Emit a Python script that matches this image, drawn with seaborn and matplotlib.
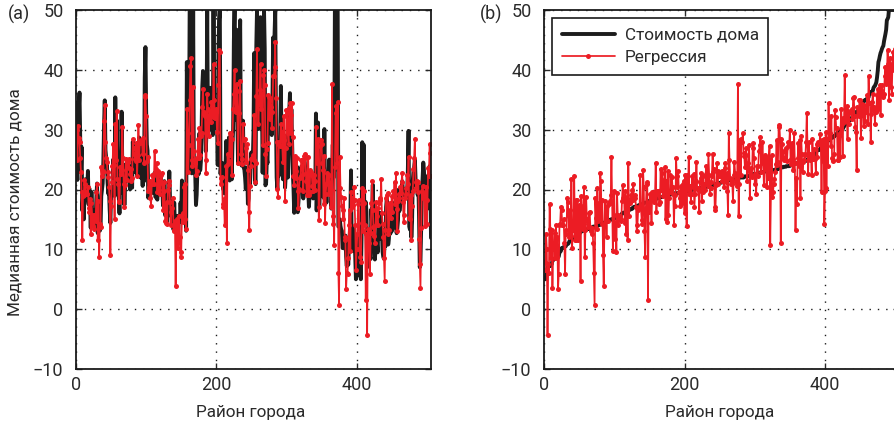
import numpy as np
import pandas as pd
import matplotlib
matplotlib.use('Agg')
import matplotlib.pyplot as plt
import seaborn as sns

# Median house value (Boston housing), per district, in original order
medv = [
    24.0, 21.6, 34.7, 33.4, 36.2, 28.7, 22.9, 27.1, 16.5, 18.9,
    15.0, 18.9, 21.7, 20.4, 18.2, 19.9, 23.1, 17.5, 20.2, 18.2,
    13.6, 19.6, 15.2, 14.5, 15.6, 13.9, 16.6, 14.8, 18.4, 21.0,
    12.7, 14.5, 13.2, 13.1, 13.5, 18.9, 20.0, 21.0, 24.7, 30.8,
    34.9, 26.6, 25.3, 24.7, 21.2, 19.3, 20.0, 16.6, 14.4, 19.4,
    19.7, 20.5, 25.0, 23.4, 18.9, 35.4, 24.7, 31.6, 23.3, 19.6,
    18.7, 16.0, 22.2, 25.0, 33.0, 23.5, 19.4, 22.0, 17.4, 20.9,
    24.2, 21.7, 22.8, 23.4, 24.1, 21.4, 20.0, 20.8, 21.2, 20.3,
    28.0, 23.9, 24.8, 22.9, 23.9, 26.6, 22.5, 22.2, 23.6, 28.7,
    22.6, 22.0, 22.9, 25.0, 20.6, 28.4, 21.4, 38.7, 43.8, 33.2,
    27.5, 26.5, 18.6, 19.3, 20.1, 19.5, 19.5, 20.4, 19.8, 19.4,
    21.7, 22.8, 18.8, 18.7, 18.5, 18.3, 21.2, 19.2, 20.4, 19.3,
    22.0, 20.3, 20.5, 17.3, 18.8, 21.4, 15.7, 16.2, 18.0, 14.3,
    19.2, 19.6, 23.0, 18.4, 15.6, 18.1, 17.4, 17.1, 13.3, 17.8,
    14.0, 14.4, 13.4, 15.6, 11.8, 13.8, 15.6, 14.6, 17.8, 15.4,
    21.5, 19.6, 15.3, 19.4, 17.0, 15.6, 13.1, 41.3, 24.3, 23.3,
    27.0, 50.0, 50.0, 50.0, 22.7, 25.0, 50.0, 23.8, 23.8, 22.3,
    17.4, 19.1, 23.1, 23.6, 22.6, 29.4, 23.2, 24.6, 29.9, 37.2,
    39.8, 36.2, 37.9, 32.5, 26.4, 29.6, 50.0, 32.0, 29.8, 34.9,
    37.0, 30.5, 36.4, 31.1, 29.1, 50.0, 33.3, 30.3, 34.6, 34.9,
    32.9, 24.1, 42.3, 48.5, 50.0, 22.6, 24.4, 22.5, 24.4, 20.0,
    21.7, 19.3, 22.4, 28.1, 23.7, 25.0, 23.3, 28.7, 21.5, 23.0,
    26.7, 21.7, 27.5, 30.1, 44.8, 50.0, 37.6, 31.6, 46.7, 31.5,
    24.3, 31.7, 41.7, 48.3, 29.0, 24.0, 25.1, 31.5, 23.7, 23.3,
    22.0, 20.1, 22.2, 23.7, 17.6, 18.5, 24.3, 20.5, 24.5, 26.2,
    24.4, 24.8, 29.6, 42.8, 21.9, 20.9, 44.0, 50.0, 36.0, 30.1,
    33.8, 43.1, 48.8, 31.0, 36.5, 22.8, 30.7, 50.0, 43.5, 20.7,
    21.1, 25.2, 24.4, 35.2, 32.4, 32.0, 33.2, 33.1, 29.1, 35.1,
    45.4, 35.4, 46.0, 50.0, 32.2, 22.0, 20.1, 23.2, 22.3, 24.8,
    28.5, 37.3, 27.9, 23.9, 21.7, 28.6, 27.1, 20.3, 22.5, 29.0,
    24.8, 22.0, 26.4, 33.1, 36.1, 28.4, 33.4, 28.2, 22.8, 20.3,
    16.1, 22.1, 19.4, 21.6, 23.8, 16.2, 17.8, 19.8, 23.1, 21.0,
    23.8, 23.1, 20.4, 18.5, 25.0, 24.6, 23.0, 22.2, 19.3, 22.6,
    19.8, 17.1, 19.4, 22.2, 20.7, 21.1, 19.5, 18.5, 20.6, 19.0,
    18.7, 32.7, 16.5, 23.9, 31.2, 17.5, 17.2, 23.1, 24.5, 26.6,
    22.9, 24.1, 18.6, 30.1, 18.2, 20.6, 17.8, 21.7, 22.7, 22.6,
    25.0, 19.9, 20.8, 16.8, 21.9, 27.5, 21.9, 23.1, 50.0, 50.0,
    50.0, 50.0, 50.0, 13.8, 13.8, 15.0, 13.9, 13.3, 13.1, 10.2,
    10.4, 10.9, 11.3, 12.3, 8.8, 7.2, 10.5, 7.4, 10.2, 11.5,
    15.1, 23.2, 9.7, 13.8, 12.7, 13.1, 12.5, 8.5, 5.0, 6.3,
    5.6, 7.2, 12.1, 8.3, 8.5, 5.0, 11.9, 27.9, 17.2, 27.5,
    15.0, 17.2, 17.9, 16.3, 7.0, 7.2, 7.5, 10.4, 8.8, 8.4,
    16.7, 14.2, 20.8, 13.4, 11.7, 8.3, 10.2, 10.9, 11.0, 9.5,
    14.5, 14.1, 16.1, 14.3, 11.7, 13.4, 9.6, 8.7, 8.4, 12.8,
    10.5, 17.1, 18.4, 15.4, 10.8, 11.8, 14.9, 12.6, 14.1, 13.0,
    13.4, 15.2, 16.1, 17.8, 14.9, 14.1, 12.7, 13.5, 14.9, 20.0,
    16.4, 17.7, 19.5, 20.2, 21.4, 19.9, 19.0, 19.1, 19.1, 20.1,
    19.9, 19.6, 23.2, 29.8, 13.8, 13.3, 16.7, 12.0, 14.6, 21.4,
    23.0, 23.7, 25.0, 21.8, 20.6, 21.2, 19.1, 20.6, 15.2, 7.0,
    8.1, 13.6, 20.1, 21.8, 24.5, 23.1, 19.7, 18.3, 21.2, 17.5,
    16.8, 22.4, 20.6, 23.9, 22.0, 11.9,
]

# Regression prediction per district
pred = [
    30.0, 25.0, 30.6, 28.6, 27.9, 25.3, 23.0, 19.5, 11.5, 18.9,
    19.0, 21.6, 20.9, 19.6, 19.3, 19.3, 20.5, 16.9, 16.2, 18.4,
    12.5, 17.7, 15.8, 13.9, 15.7, 13.4, 15.5, 14.7, 19.5, 20.9,
    11.5, 18.1, 8.8, 14.3, 13.7, 23.8, 22.3, 23.1, 22.9, 31.4,
    34.2, 28.0, 25.2, 24.6, 22.9, 22.1, 20.4, 18.0, 9.1, 17.2,
    21.3, 23.9, 27.6, 24.1, 15.1, 31.0, 24.9, 33.1, 21.8, 21.0,
    17.9, 18.1, 23.7, 22.6, 23.3, 30.4, 25.2, 20.9, 17.1, 20.8,
    25.1, 21.6, 24.0, 24.6, 25.1, 23.6, 22.6, 23.4, 21.4, 21.9,
    28.4, 27.0, 26.0, 25.1, 24.8, 27.8, 22.2, 25.7, 30.8, 25.0,
    27.8, 28.2, 28.0, 27.9, 26.0, 28.6, 24.5, 35.8, 35.5, 32.3,
    24.8, 25.4, 19.8, 20.4, 21.5, 18.6, 17.3, 20.9, 22.4, 22.2,
    21.0, 26.5, 22.7, 23.5, 24.5, 19.6, 23.1, 22.4, 20.0, 19.3,
    22.4, 22.8, 21.1, 16.5, 19.8, 21.2, 14.8, 14.4, 17.9, 14.2,
    20.0, 21.5, 20.8, 17.9, 14.1, 16.2, 16.9, 18.5, 13.2, 13.1,
    14.8, 3.9, 14.2, 15.0, 10.3, 11.0, 15.6, 12.0, 8.7, 9.5,
    15.8, 16.0, 14.5, 20.5, 21.0, 15.0, 13.4, 33.5, 29.4, 22.9,
    27.5, 35.0, 40.6, 41.9, 23.9, 25.0, 37.1, 26.5, 25.0, 24.5,
    22.5, 23.1, 25.2, 28.5, 25.3, 30.2, 25.7, 29.0, 29.5, 33.8,
    36.8, 32.6, 33.0, 32.3, 22.7, 24.9, 36.0, 33.4, 28.9, 31.5,
    33.1, 31.3, 34.6, 33.9, 32.2, 41.0, 35.0, 31.9, 33.0, 33.4,
    29.6, 27.7, 37.4, 43.3, 43.0, 20.9, 22.0, 22.1, 17.5, 17.0,
    18.0, 14.0, 18.5, 24.0, 11.0, 26.0, 24.2, 24.7, 29.5, 25.7,
    29.2, 22.5, 28.5, 33.5, 36.0, 40.0, 33.2, 33.0, 37.7, 33.0,
    24.5, 32.8, 36.4, 38.2, 26.0, 24.3, 25.1, 31.0, 28.5, 28.2,
    28.4, 24.6, 27.0, 27.6, 23.3, 16.3, 13.3, 20.6, 24.0, 25.1,
    25.2, 25.7, 24.9, 32.5, 21.3, 24.5, 35.6, 43.5, 34.5, 30.9,
    34.3, 36.7, 41.0, 33.4, 36.0, 27.4, 39.1, 40.0, 37.5, 26.0,
    22.3, 26.8, 27.7, 35.8, 35.4, 31.7, 35.0, 33.8, 30.2, 33.0,
    39.0, 38.9, 40.4, 44.7, 35.3, 28.0, 20.1, 18.7, 27.4, 27.9,
    27.3, 31.0, 29.6, 27.3, 24.6, 32.3, 28.3, 18.1, 26.9, 33.3,
    32.8, 29.5, 27.6, 33.6, 34.5, 29.5, 32.5, 34.5, 28.7, 22.3,
    20.7, 25.6, 23.1, 21.9, 25.2, 19.8, 16.9, 20.1, 22.0, 22.2,
    25.0, 24.9, 22.6, 19.7, 25.6, 26.0, 25.2, 21.4, 19.1, 22.6,
    25.4, 19.0, 19.6, 23.3, 23.0, 22.5, 20.6, 19.7, 22.4, 21.4,
    19.9, 30.5, 24.5, 28.0, 28.4, 14.9, 17.1, 27.3, 28.3, 27.6,
    24.5, 23.3, 17.5, 25.6, 14.4, 19.3, 21.0, 22.8, 22.3, 19.2,
    22.4, 20.6, 17.1, 19.9, 37.7, 14.2, 15.5, 10.8, 23.8, 32.8,
    34.0, 24.5, 34.7, 6.0, 0.7, 25.5, 20.3, 18.7, 17.2, 16.5,
    15.0, 18.6, 12.0, 11.5, 3.4, 6.0, 5.9, 8.5, 14.0, 16.6,
    9.8, 19.5, 17.0, 18.5, 17.4, 20.4, 18.2, 14.0, 6.5, 10.0,
    12.5, 17.5, 18.2, 10.1, 8.8, 7.9, 14.4, 20.3, 13.0, 19.8,
    17.8, 14.0, 1.5, 12.5, -4.3, 13.4, 13.2, 11.0, 5.9, 12.7,
    17.8, 21.4, 16.6, 13.8, 12.3, 11.0, 14.0, 17.9, 15.5, 14.0,
    16.9, 17.8, 18.6, 18.3, 21.7, 16.0, 14.3, 12.0, 8.5, 4.7,
    13.3, 18.5, 19.0, 19.4, 12.6, 13.2, 17.8, 17.2, 15.3, 18.9,
    16.3, 19.7, 18.9, 21.3, 17.6, 22.7, 16.7, 13.0, 18.0, 19.2,
    18.6, 20.4, 19.4, 21.3, 22.8, 17.9, 14.6, 15.8, 18.5, 20.2,
    19.3, 22.5, 21.0, 25.5, 15.3, 15.0, 19.0, 11.5, 17.3, 19.7,
    23.5, 25.3, 28.5, 21.2, 20.3, 21.5, 19.5, 21.3, 11.8, 7.6,
    3.5, 13.5, 19.8, 20.6, 18.5, 19.3, 13.9, 19.0, 20.5, 14.2,
    18.2, 23.6, 22.3, 27.6, 26.1, 22.3,
]

x_ticks = [0, 200, 400]
y_ticks = [-10, 0, 10, 20, 30, 40, 50]
x_label = 'Район города'
y_label = 'Медианная стоимость дома'
series_labels = ['Стоимость дома', 'Регрессия']
panel_labels = ['(a)', '(b)']

sns.set_theme(style='white')
plt.rcParams['font.family'] = ['Roboto', 'DejaVu Sans']
plt.rcParams['axes.unicode_minus'] = True

n = len(medv)
district = np.arange(1, n + 1)
medv_arr = np.array(medv)
pred_arr = np.array(pred)
order = np.argsort(medv_arr, kind='stable')

df_a = pd.DataFrame({'x': district, 'medv': medv_arr, 'pred': pred_arr})
df_b = pd.DataFrame({'x': district, 'medv': medv_arr[order], 'pred': pred_arr[order]})

W, H = 894, 428
fig = plt.figure(figsize=(W / 100, H / 100), dpi=100)
ax_a = fig.add_axes([76 / W, 1 - 369 / H, 355 / W, 359 / H])
ax_b = fig.add_axes([544 / W, 1 - 369 / H, 355.5 / W, 359 / H])

BLACK = '#1c1c1c'
RED = '#ec1c24'
TXT = '#2a2a2a'
FS_TICK = 13
FS_LAB = 12.3
FS_LEG = 12.3

for ax, df, show_leg in [(ax_a, df_a, False), (ax_b, df_b, True)]:
    sns.lineplot(data=df, x='x', y='medv', ax=ax, color=BLACK, lw=2.8,
                 label=series_labels[0], legend=False)
    sns.lineplot(data=df, x='x', y='pred', ax=ax, color=RED, lw=1.25,
                 marker='o', markersize=3.6, markeredgewidth=0,
                 markerfacecolor=RED, label=series_labels[1], legend=False)
    ax.set_xticks(x_ticks)
    ax.set_yticks(y_ticks)
    ax.set_xlim(0, 506)
    ax.set_ylim(-10, 50)
    ax.grid(True, color='k', linestyle=(0, (1, 5)), lw=1.0)
    ax.tick_params(direction='in', length=4, width=1, top=True, right=True,
                   bottom=True, left=True, labelsize=FS_TICK, colors=TXT)
    ax.tick_params(axis='x', pad=5)
    ax.tick_params(axis='y', pad=9)
    for sp in ax.spines.values():
        sp.set_color('#1a1a1a')
        sp.set_linewidth(1.3)
    ax.set_xlabel(x_label, fontsize=FS_LAB, color=TXT)
    ax.xaxis.set_label_coords(0.493, -0.10)
    ax.set_ylabel('')
    if show_leg:
        leg = ax.legend(loc='upper left', fontsize=FS_LEG, frameon=True,
                        fancybox=False, edgecolor='#1a1a1a', framealpha=1,
                        handlelength=3.1, handletextpad=0.6, borderpad=0.55,
                        labelspacing=0.45, borderaxespad=0,
                        bbox_to_anchor=(0.0233, 0.977))
        leg.get_frame().set_linewidth(1.2)
        for t in leg.get_texts():
            t.set_color(TXT)

ax_a.set_ylabel(y_label, fontsize=FS_LAB, color=TXT)
ax_a.yaxis.set_label_coords(-0.15, 0.466)

fig.text(8 / W, 1 - 14 / H, panel_labels[0], fontsize=FS_TICK, va='center', ha='left', color=TXT)
fig.text(480 / W, 1 - 14 / H, panel_labels[1], fontsize=FS_TICK, va='center', ha='left', color=TXT)

fig.savefig('out.png', dpi=100)
